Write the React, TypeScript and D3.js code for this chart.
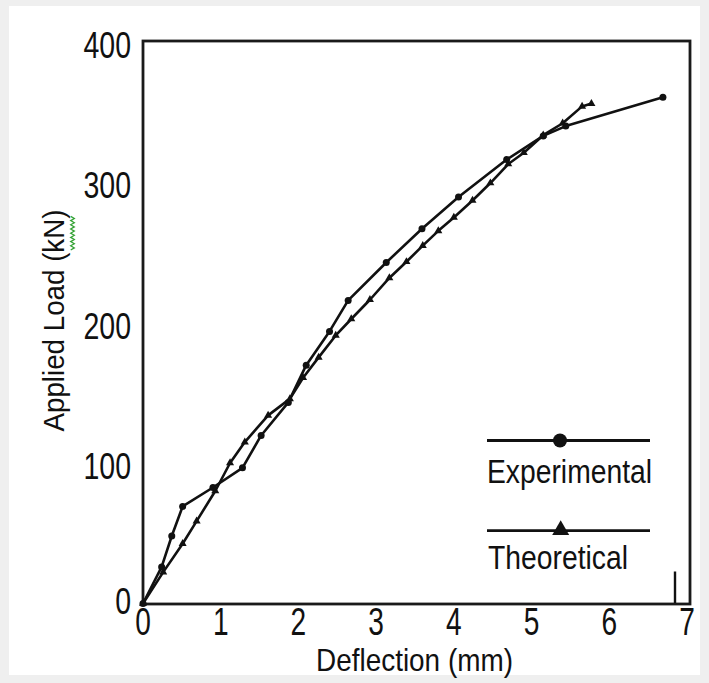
import React from 'react';
import * as d3 from 'd3';

// ---- data ----
const expDeflection = [0, 0.24, 0.37, 0.51, 0.9, 1.28, 1.52, 1.87, 2.1, 2.4, 2.64, 3.13, 3.59, 4.06, 4.68, 5.15, 5.44, 6.69];
const expLoad = [0, 26, 48, 69, 82.5, 96.5, 119.5, 143, 169.5, 193.5, 215.5, 242.5, 266.5, 289, 315.7, 332.5, 339.5, 360];

const theoDeflection = [0, 0.26, 0.51, 0.69, 0.93, 1.12, 1.31, 1.61, 1.89, 2.06, 2.26, 2.48, 2.68, 2.92, 3.17, 3.39, 3.6, 3.8, 4.0, 4.24, 4.47, 4.7, 4.9, 5.15, 5.4, 5.65, 5.77];
const theoLoad = [0, 22.3, 42.5, 58.6, 80, 99.9, 114.8, 133.8, 145.5, 160.5, 175, 190.6, 202.3, 216, 231.5, 243, 254.5, 265, 274.5, 286.6, 299, 312.5, 320.5, 333, 341.5, 353.5, 355.5];

const xTicks = [0, 1, 2, 3, 4, 5, 6, 7];
const yTicks = [0, 100, 200, 300, 400];
const seriesNames = ['Experimental', 'Theoretical'];
const xTitle = 'Deflection (mm)';
const yTitle = 'Applied Load (kN)';

const FONT = '"Liberation Sans", Arial, Helvetica, sans-serif';
const INK = '#111111';

export default function App() {
  const W = 709;
  const H = 683;
  const x = d3.scaleLinear().domain([0, 7]).range([143, 687]);
  const y = d3.scaleLinear().domain([0, 400]).range([603.5, 41]);

  const expPts: [number, number][] = expDeflection.map((d, i) => [x(d), y(expLoad[i])]);
  const theoPts: [number, number][] = theoDeflection.map((d, i) => [x(d), y(theoLoad[i])]);
  const line = d3.line();
  const tri = d3.symbol().type(d3.symbolTriangle).size(28)() as string;
  const triBig = d3.symbol().type(d3.symbolTriangle).size(125)() as string;

  const left = x(0);
  const right = x(7) + 3;
  const top = y(400);
  const bottom = y(0) + 0.5;

  // green wavy spell-check underline
  const wave: [number, number][] = d3.range(0, 17).map((i) => [72.5 + (i % 2 === 0 ? -1.8 : 1.8), 250 - i * 2.1]);

  return (
    <svg width={W} height={H} style={{ position: 'absolute', left: 0, top: 0 }} xmlns="http://www.w3.org/2000/svg">
      <rect x={0} y={0} width={W} height={H} fill="#efefef" />
      <rect x={9} y={6} width={691} height={669} fill="#ffffff" />

      {/* frame */}
      <rect x={left} y={top} width={right - left} height={bottom - top} fill="none" stroke="#1a1a1a" strokeWidth={2.8} />

      {/* y tick labels */}
      {yTicks.map((t) => (
        <g key={'y' + t} transform={`translate(131,${t === 0 ? y(t) + 10 : y(t) + 16.5}) scale(0.76,1)`}>
          <text textAnchor="end" fontFamily={FONT} fontSize={37.5} fill={INK}>{t}</text>
        </g>
      ))}

      {/* x tick labels */}
      {xTicks.map((t) => (
        <g key={'x' + t} transform={`translate(${x(t)},635) scale(0.74,1)`}>
          <text textAnchor="middle" fontFamily={FONT} fontSize={38} fill={INK}>{t}</text>
        </g>
      ))}

      {/* axis titles */}
      <text x={316} y={671} fontFamily={FONT} fontSize={32} fill={INK} textLength={197} lengthAdjust="spacingAndGlyphs">{xTitle}</text>
      <text transform="translate(63.5,431.5) rotate(-90)" x={0} y={0} fontFamily={FONT} fontSize={30} fill={INK} textLength={222} lengthAdjust="spacingAndGlyphs">{yTitle}</text>
      <path d={line(wave) as string} fill="none" stroke="#36a336" strokeWidth={1.3} />

      {/* series lines */}
      <path d={line(theoPts) as string} fill="none" stroke={INK} strokeWidth={2.6} strokeLinejoin="round" />
      <path d={line(expPts) as string} fill="none" stroke={INK} strokeWidth={2.6} strokeLinejoin="round" />
      {theoPts.map((p, i) => (
        <path key={'t' + i} d={tri} transform={`translate(${p[0]},${p[1]})`} fill={INK} />
      ))}
      {expPts.map((p, i) => (
        <circle key={'e' + i} cx={p[0]} cy={p[1]} r={3.5} fill={INK} />
      ))}

      {/* legend */}
      <line x1={487} x2={650} y1={440.5} y2={440.5} stroke={INK} strokeWidth={2.8} />
      <circle cx={560} cy={440.5} r={7} fill={INK} />
      <text x={487} y={482.7} fontFamily={FONT} fontSize={32.5} fill={INK} textLength={165} lengthAdjust="spacingAndGlyphs">{seriesNames[0]}</text>

      <line x1={487} x2={650} y1={530.7} y2={530.7} stroke={INK} strokeWidth={2.8} />
      <path d={triBig} transform="translate(560.7,530)" fill={INK} />
      <text x={488} y={569.3} fontFamily={FONT} fontSize={33} fill={INK} textLength={140} lengthAdjust="spacingAndGlyphs">{seriesNames[1]}</text>

      {/* small stray mark near bottom-right */}
      <line x1={675} x2={675} y1={571.5} y2={603} stroke={INK} strokeWidth={2.4} />
    </svg>
  );
}
